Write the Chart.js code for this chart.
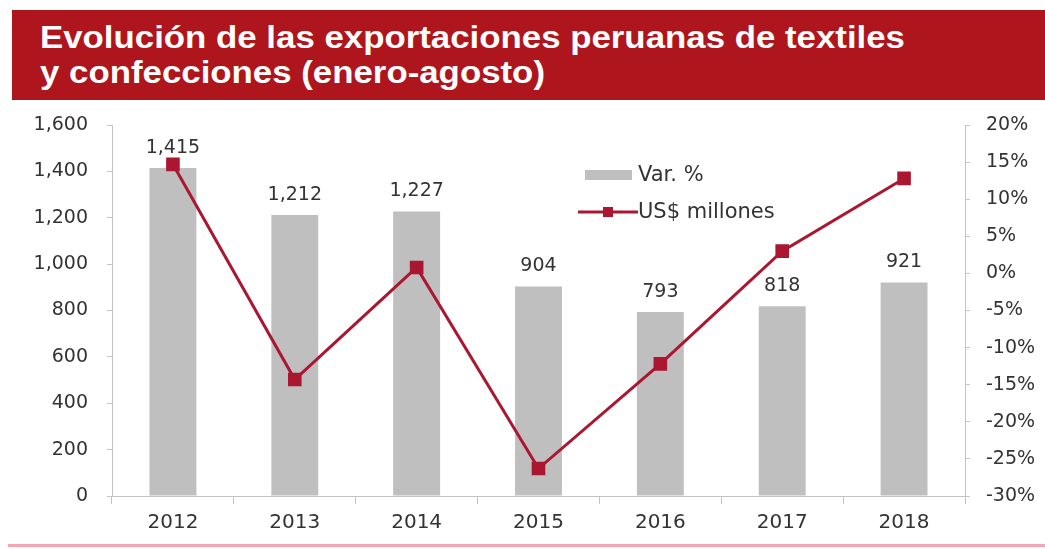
<!DOCTYPE html>
<html>
<head>
<meta charset="utf-8">
<script src="https://cdn.jsdelivr.net/npm/chart.js@4/dist/chart.umd.min.js"></script>
<style>
  html, body { margin: 0; padding: 0; background: #fff; width: 1045px; height: 549px; overflow: hidden; }
  #banner { position: absolute; left: 12px; top: 10px; width: 1033px; height: 90px; background: #ae151c; }
  #title { position: absolute; left: 40px; top: 20px; color: #fff; font: bold 31px "Liberation Sans", Arial, sans-serif;
           line-height: 35px; transform-origin: 0 0; white-space: nowrap; }
  #foot { position: absolute; left: 8px; top: 544px; width: 1037px; height: 3px; background: #f2a7b3; }
  #wrap { position: absolute; left: 0; top: 0; width: 1045px; height: 549px; }
</style>
</head>
<body>
<div id="banner"></div>
<div id="title"><span id="t1">Evolución de las exportaciones peruanas de textiles</span><br><span>y confecciones (enero-agosto)</span></div>
<div id="wrap"><canvas id="c" width="1045" height="549"></canvas></div>
<div id="foot"></div>
<script>
// Years on the category axis
const years = ['2012', '2013', '2014', '2015', '2016', '2017', '2018'];
// Exports, US$ millions (bars, left axis)
const exportValues = [1415, 1212, 1227, 904, 793, 818, 921];
// Year-on-year change, % (line, right axis)
const changePct = [14.7, -14.3, 0.8, -26.3, -12.2, 3.0, 12.8];
// Axis ranges
const leftTicks = { min: 0, max: 1600, step: 200 };
const rightTicks = { min: -30, max: 20, step: 5 };
// Series names as shown in the key
const barLabel = 'Var. %';
const lineLabel = 'US$ millones';

// Fit the first title line to the banner width
(function () {
  const t1 = document.getElementById('t1');
  const w = t1.getBoundingClientRect().width;
  document.getElementById('title').style.transform = 'scaleX(' + (865 / w) + ')';
})();

const FONT = '"DejaVu Sans", Verdana, sans-serif';
const TEXT = '#333333';
const AXIS = '#c4c4c4';
const BAR = '#bfbfbf';
const LINE = '#ab1630';

const fmt = v => v.toLocaleString('en-US');

// Value labels above each bar
const barValueLabels = {
  id: 'barValueLabels',
  afterDatasetsDraw(chart) {
    const ctx = chart.ctx;
    const meta = chart.getDatasetMeta(1);
    ctx.save();
    ctx.font = '19px ' + FONT;
    ctx.fillStyle = TEXT;
    ctx.textAlign = 'center';
    ctx.textBaseline = 'middle';
    meta.data.forEach((bar, i) => {
      ctx.fillText(fmt(chart.data.datasets[1].data[i]), bar.x, bar.y - 20);
    });
    ctx.restore();
  }
};

// Key drawn inside the plot area
const insideKey = {
  id: 'insideKey',
  afterDraw(chart) {
    const ctx = chart.ctx;
    const ds = chart.data.datasets;
    ctx.save();
    ctx.font = '21px ' + FONT;
    ctx.textBaseline = 'middle';
    ctx.textAlign = 'left';
    // bar swatch
    ctx.fillStyle = ds[1].backgroundColor;
    ctx.fillRect(585, 170, 47, 10);
    ctx.fillStyle = TEXT;
    ctx.fillText(ds[1].label, 638, 176);
    // line swatch with marker
    ctx.strokeStyle = ds[0].borderColor;
    ctx.lineWidth = 3;
    ctx.beginPath();
    ctx.moveTo(578, 212);
    ctx.lineTo(638, 212);
    ctx.stroke();
    ctx.fillStyle = ds[0].pointBackgroundColor;
    ctx.fillRect(603, 207, 10, 10);
    ctx.fillStyle = TEXT;
    ctx.fillText(ds[0].label, 638, 213);
    ctx.restore();
  }
};

new Chart(document.getElementById('c'), {
  data: {
    labels: years,
    datasets: [
      {
        type: 'line',
        label: lineLabel,
        data: changePct,
        yAxisID: 'yPct',
        borderColor: LINE,
        backgroundColor: LINE,
        pointBackgroundColor: LINE,
        pointBorderColor: LINE,
        borderWidth: 3,
        pointStyle: 'rect',
        pointRadius: 7.5,
        tension: 0,
        order: 0
      },
      {
        type: 'bar',
        label: barLabel,
        data: exportValues,
        yAxisID: 'yVal',
        backgroundColor: BAR,
        borderWidth: 0,
        categoryPercentage: 1,
        barPercentage: 0.385,
        order: 1
      }
    ]
  },
  options: {
    responsive: false,
    animation: false,
    layout: { padding: { top: 125, left: 0, right: 0, bottom: 0 } },
    plugins: { legend: { display: false }, tooltip: { enabled: false } },
    scales: {
      x: {
        offset: true,
        grid: { display: true, drawOnChartArea: false, offset: true, tickLength: 8, color: AXIS },
        border: { color: AXIS, width: 1 },
        ticks: { color: TEXT, font: { family: FONT, size: 20 }, padding: 7 },
        afterFit: s => { s.height = 53; }
      },
      yVal: {
        position: 'left',
        min: leftTicks.min, max: leftTicks.max,
        grid: { display: true, drawOnChartArea: false, tickLength: 5, color: AXIS },
        border: { color: AXIS, width: 1 },
        ticks: { stepSize: leftTicks.step, color: TEXT, font: { family: FONT, size: 19 }, padding: 19,
                 callback: v => fmt(v) },
        afterFit: s => { s.width = 112; }
      },
      yPct: {
        position: 'right',
        min: rightTicks.min, max: rightTicks.max,
        grid: { display: true, drawOnChartArea: false, tickLength: 5, color: AXIS },
        border: { color: AXIS, width: 1 },
        ticks: { stepSize: rightTicks.step, color: TEXT, font: { family: FONT, size: 19 }, padding: 16,
                 callback: v => v + '%' },
        afterFit: s => { s.width = 80; }
      }
    }
  },
  plugins: [barValueLabels, insideKey]
});
</script>
</body>
</html>
